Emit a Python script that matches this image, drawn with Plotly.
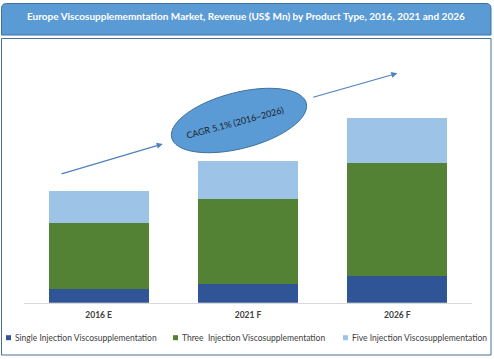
import math
import plotly.graph_objects as go

# ---- data ----
categories = ["2016 E", "2021 F", "2026 F"]
series_names = [
    "Single Injection Viscosupplementation",
    "Three  Injection Viscosupplementation",
    "Five Injection Viscosupplementation",
]
single = [41, 56, 80]
three = [199, 255, 339]
five = [95, 114, 134]
series_values = [single, three, five]
colors = ["#2f5597", "#548235", "#9dc3e6"]
title_text = "Europe Viscosupplememntation Market, Revenue (US$ Mn) by Product Type, 2016, 2021 and 2026"
cagr_text = "CAGR 5.1% (2016~2026)"

W, H = 494, 359


def px(x):
    return x / W


def py(y):
    return 1 - y / H


FONT = "Lato"

fig = go.Figure()
for name, vals, col in zip(series_names, series_values, colors):
    fig.add_trace(go.Bar(x=categories, y=vals, name=name, marker=dict(color=col, line=dict(width=0)),
                         width=0.67, showlegend=False, hoverinfo="skip"))

shapes = []
annotations = []

# outer frame
shapes.append(dict(type="rect", xref="paper", yref="paper", x0=px(1.5), x1=px(491), y0=py(355), y1=py(38.5),
                   line=dict(color="#4a6f95", width=1), fillcolor="rgba(0,0,0,0)", layer="below"))

# title box with rounded corners
r = 5
x0, x1, y0, y1 = 1.5, 491, 3.5, 35
path = (f"M {px(x0 + r)},{py(y0)} L {px(x1 - r)},{py(y0)} Q {px(x1)},{py(y0)} {px(x1)},{py(y0 + r)} "
        f"L {px(x1)},{py(y1)} L {px(x0)},{py(y1)} L {px(x0)},{py(y0 + r)} Q {px(x0)},{py(y0)} {px(x0 + r)},{py(y0)} Z")
shapes.append(dict(type="path", xref="paper", yref="paper", path=path, fillcolor="#5b9bd5",
                   line=dict(color="#41719c", width=1), layer="above"))
annotations.append(dict(text=f"<b>{title_text}</b>", x=px(246), y=py(15.5), xref="paper", yref="paper",
                        showarrow=False, font=dict(family=FONT, size=10, color="white"),
                        xanchor="center", yanchor="middle"))

# ellipse
cx, cy, a, b, th = 239, 120.5, 69.5, 28, math.radians(-14.5)
pts = []
for i in range(73):
    t = 2 * math.pi * i / 72
    ex = a * math.cos(t)
    ey = b * math.sin(t)
    X = cx + ex * math.cos(th) - ey * math.sin(th)
    Y = cy + ex * math.sin(th) + ey * math.cos(th)
    pts.append(f"{px(X):.5f},{py(Y):.5f}")
epath = "M " + " L ".join(pts) + " Z"
shapes.append(dict(type="path", xref="paper", yref="paper", path=epath, fillcolor="#5b9bd5",
                   line=dict(color="#41719c", width=1), layer="above"))
annotations.append(dict(text=cagr_text, x=px(235), y=py(123), xref="paper", yref="paper", showarrow=False,
                        textangle=-15, font=dict(family=FONT, size=9, color="#1b1f2a"),
                        xanchor="center", yanchor="middle"))

# arrows
for (tx, ty, sx, sy) in [(162.7, 144, 60, 174.3), (397.3, 73.3, 311.7, 97.7)]:
    annotations.append(dict(x=px(tx), y=py(ty), xref="paper", yref="paper", ax=sx - tx, ay=sy - ty,
                            showarrow=True, arrowhead=2, arrowsize=1, arrowwidth=1.2,
                            arrowcolor="#4f81bd", text=""))

# legend (manual)
leg_sq_x = [6, 173, 343]
leg_y = 337.7
for name, col, lx in zip(series_names, colors, leg_sq_x):
    shapes.append(dict(type="rect", xref="paper", yref="paper", x0=px(lx), x1=px(lx + 5),
                       y0=py(leg_y + 2.5), y1=py(leg_y - 2.5), fillcolor=col, line=dict(width=0)))
    annotations.append(dict(text=name, x=px(lx + 7), y=py(leg_y), xref="paper", yref="paper",
                            showarrow=False, xanchor="left", yanchor="middle",
                            font=dict(family=FONT, size=8.5, color="#404040")))

fig.update_layout(
    width=W, height=H, autosize=False,
    margin=dict(l=0, r=0, t=0, b=0),
    paper_bgcolor="white", plot_bgcolor="white",
    barmode="stack", bargap=0.33,
    shapes=shapes, annotations=annotations,
    xaxis=dict(domain=[px(24), px(472)], range=[-0.5, 2.5], showline=True, linecolor="#d9d9d9",
               linewidth=1, ticks="", showgrid=False, zeroline=False,
               tickfont=dict(family=FONT, size=8.5, color="#404040"), ticklabelstandoff=4),
    yaxis=dict(domain=[py(302.7), py(50)], range=[0, 758], visible=False),
    showlegend=False,
)
fig.update_xaxes(tickvals=categories, ticktext=[f"<b>{c}</b>" for c in categories])

fig.write_html("out.html", config={"displayModeBar": False},
               post_script="document.body.style.margin='0';document.body.style.overflow='hidden';")
